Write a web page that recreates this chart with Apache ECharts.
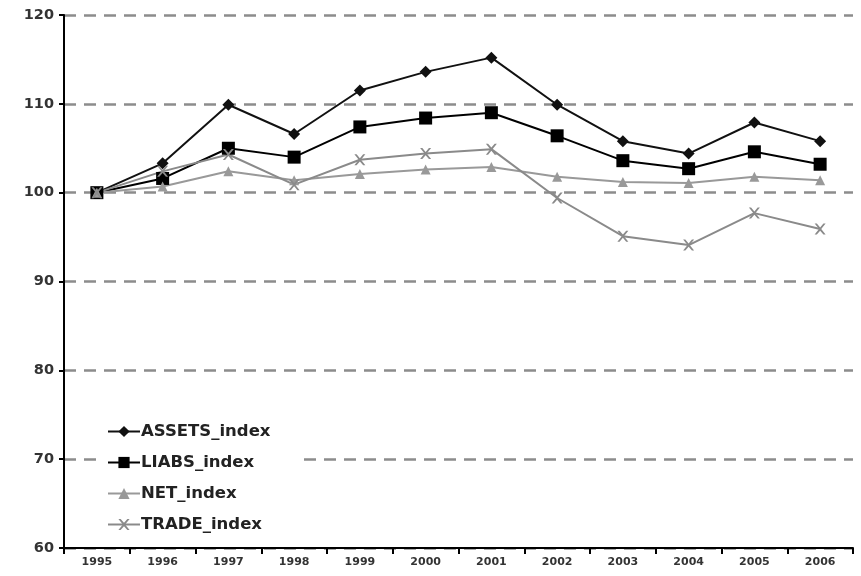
<!DOCTYPE html>
<html>
<head>
<meta charset="utf-8">
<script src="https://cdn.jsdelivr.net/npm/echarts@6/dist/echarts.min.js"></script>
<style>
  html, body { margin: 0; padding: 0; background: #fff; }
  #chart { width: 861px; height: 576px; }
</style>
</head>
<body>
<div id="chart"></div>
<script>
// Index series (1995 = 100)
const years = ['1995','1996','1997','1998','1999','2000','2001','2002','2003','2004','2005','2006'];
const assetsIndex = [100, 103.3, 109.9, 106.6, 111.5, 113.6, 115.2, 109.9, 105.8, 104.4, 107.9, 105.8];
const liabsIndex  = [100, 101.6, 105.0, 104.0, 107.4, 108.4, 109.0, 106.4, 103.6, 102.7, 104.6, 103.2];
const netIndex    = [100, 100.7, 102.4, 101.4, 102.1, 102.6, 102.9, 101.8, 101.2, 101.1, 101.8, 101.4];
const tradeIndex  = [100, 102.4, 104.3, 100.9, 103.7, 104.4, 104.9, 99.4, 95.1, 94.1, 97.7, 95.9];

const font = 'Verdana, "DejaVu Sans", sans-serif';

function lineSeries(name, data, color, symbol, size) {
  return {
    name: name,
    type: 'line',
    data: data,
    symbol: symbol,
    symbolSize: size,
    lineStyle: { color: color, width: 2 },
    itemStyle: { color: color, borderColor: color, borderWidth: 0 },
    emphasis: { disabled: true },
    animation: false
  };
}

const chart = echarts.init(document.getElementById('chart'), null, { renderer: 'canvas' });
chart.setOption({
  backgroundColor: '#fff',
  animation: false,
  grid: { left: 64, right: 8, top: 15, bottom: 28, containLabel: false },
  legend: {
    orient: 'vertical',
    left: 103,
    top: 418,
    itemGap: 12,
    itemWidth: 32,
    itemHeight: 14,
    backgroundColor: '#fff',
    padding: [4, 30, 4, 4],
    textStyle: { fontFamily: font, fontWeight: 'bold', fontSize: 16.5, lineHeight: 19, color: '#222', padding: [0, 0, 0, -4] },
    data: ['ASSETS_index', 'LIABS_index', 'NET_index', 'TRADE_index']
  },
  xAxis: {
    type: 'category',
    data: years,
    boundaryGap: true,
    axisLine: { lineStyle: { color: '#000', width: 2 } },
    axisTick: { show: true, length: 6, lineStyle: { color: '#000', width: 2 } },
    axisLabel: { fontFamily: font, fontWeight: 'bold', fontSize: 11, color: '#333', margin: 9 },
    splitLine: { show: false }
  },
  yAxis: {
    type: 'value',
    min: 60,
    max: 120,
    interval: 10,
    axisLine: { show: true, lineStyle: { color: '#000', width: 2 } },
    axisTick: { show: true, length: 5, lineStyle: { color: '#000', width: 2 } },
    axisLabel: { fontFamily: font, fontWeight: 'bold', fontSize: 14.5, color: '#333', margin: 10 },
    splitLine: { show: true, lineStyle: { color: '#8c8c8c', width: 2.5, type: [12, 8] } }
  },
  series: [
    lineSeries('ASSETS_index', assetsIndex, '#111', 'diamond', 12),
    lineSeries('LIABS_index', liabsIndex, '#000', 'rect', 13),
    lineSeries('NET_index', netIndex, '#999', 'triangle', 10),
    lineSeries('TRADE_index', tradeIndex, '#8a8a8a', 'path://M0,0 L2,0 L5,3.5 L8,0 L10,0 L6,5 L10,10 L8,10 L5,6.5 L2,10 L0,10 L4,5 Z', 11)
  ]
});
</script>
</body>
</html>
